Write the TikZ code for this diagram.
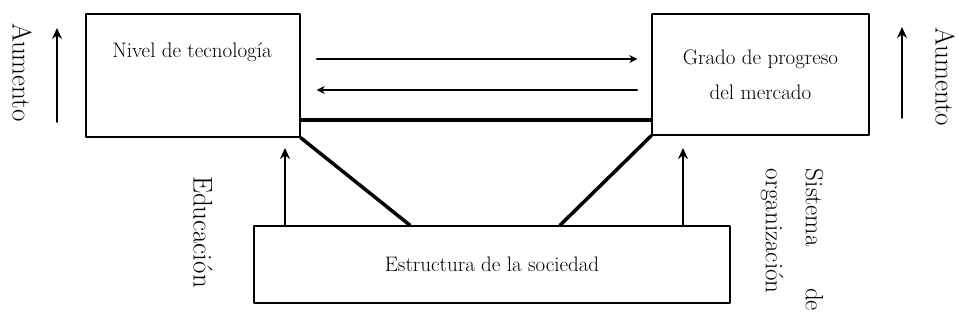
\documentclass[tikz,border=0pt]{standalone}
\usetikzlibrary{arrows.meta,positioning,calc}
\begin{document}
\begin{tikzpicture}[line cap=round,line join=round,>={Stealth[length=11pt,width=10pt]},x=1pt,y=1pt]
\tikzset{
    caja/.style={draw,line width=1.4pt,inner sep=0pt,align=center,font=\fontsize{21}{35}\selectfont},
    texto/.style={align=center,font=\fontsize{21}{35}\selectfont},
    lateral/.style={rotate=-90,align=left,font=\fontsize{27}{40}\selectfont},
    flecha/.style={->,line width=2pt},
    fina/.style={-{Stealth[length=8pt,width=8pt]},line width=1.2pt},
    gruesa/.style={line width=3.5pt}
}
                \useasboundingbox (0,0) rectangle (959,326);
                \node [caja,minimum width=214,minimum height=123] (tec) at (193,250.5) {};
                \node [caja,minimum width=217,minimum height=121] (merc) at (760.5,251.5) {Grado de progreso\\del mercado};
                \node [caja,minimum width=476,minimum height=77] (soc) at (492,61.5) {Estructura de la sociedad};
                \node [texto] (nivel) at (192,274) {Nivel de tecnología};
                \node [lateral] (aumI) at (22,253.5) {Aumento};
                \node [lateral,inner sep=1pt] (aumD) at (945,249) {Aumento};
                \node [lateral] (edu) at (203,94) {Educación};
                \node [lateral,font=\fontsize{25}{40}\selectfont] (sis) at (792,86) {\makebox[142pt][s]{Sistema\hfill de}\\organización};
                \coordinate (ida) at (0,267);
                \coordinate (vuelta) at (0,236);
                \coordinate (union) at (0,206);
                \coordinate (puntaE) at (285,178);
                \coordinate (puntaS) at (683,178);
                \draw [fina,shorten <=16pt,shorten >=14pt] (tec.east |- ida)-- (merc.west |- ida);
                \draw [fina,shorten <=14pt,shorten >=16pt] (merc.west |- vuelta)-- (tec.east |- vuelta);
                \draw [gruesa] (tec.east |- union)-- (merc.west |- union);
                \draw [gruesa] (tec.south east)-- ([xshift=-82pt]soc.north);
                \draw [gruesa] (merc.south west)-- ([xshift=68pt]soc.north);
                \draw [flecha] (soc.north -| puntaE)-- (puntaE);
                \draw [flecha] (soc.north -| puntaS)-- (puntaS);
                \draw [flecha] (57,204)-- (57,298);
                \draw [flecha] (902,208)-- (902,299);
            \end{tikzpicture}
\end{document}
